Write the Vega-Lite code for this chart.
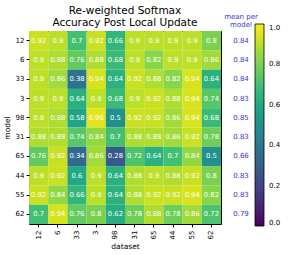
{
  "$schema": "https://vega.github.io/schema/vega-lite/v6.json",
  "padding": {"left": 2, "top": 5, "right": 2, "bottom": 2},
  "background": "white",
  "config": {
    "font": "DejaVu Sans",
    "view": {"stroke": null},
    "axis": {"labelFont": "DejaVu Sans", "titleFont": "DejaVu Sans", "labelColor": "black", "titleColor": "black", "tickColor": "black", "labelFontSize": 7, "titleFontSize": 7.5, "titleFontWeight": "normal", "tickSize": 3, "domain": false},
    "concat": {"spacing": 2}
  },
  "datasets": {
    "cells": [
      {"model": "12", "dataset": "12", "acc": 0.92}, {"model": "12", "dataset": "6", "acc": 0.9}, {"model": "12", "dataset": "33", "acc": 0.7}, {"model": "12", "dataset": "3", "acc": 0.92}, {"model": "12", "dataset": "98", "acc": 0.66}, {"model": "12", "dataset": "31", "acc": 0.9}, {"model": "12", "dataset": "65", "acc": 0.9}, {"model": "12", "dataset": "44", "acc": 0.9}, {"model": "12", "dataset": "55", "acc": 0.9}, {"model": "12", "dataset": "62", "acc": 0.8},
      {"model": "6", "dataset": "12", "acc": 0.9}, {"model": "6", "dataset": "6", "acc": 0.88}, {"model": "6", "dataset": "33", "acc": 0.76}, {"model": "6", "dataset": "3", "acc": 0.88}, {"model": "6", "dataset": "98", "acc": 0.68}, {"model": "6", "dataset": "31", "acc": 0.9}, {"model": "6", "dataset": "65", "acc": 0.82}, {"model": "6", "dataset": "44", "acc": 0.9}, {"model": "6", "dataset": "55", "acc": 0.9}, {"model": "6", "dataset": "62", "acc": 0.86},
      {"model": "33", "dataset": "12", "acc": 0.9}, {"model": "33", "dataset": "6", "acc": 0.86}, {"model": "33", "dataset": "33", "acc": 0.38}, {"model": "33", "dataset": "3", "acc": 0.94}, {"model": "33", "dataset": "98", "acc": 0.64}, {"model": "33", "dataset": "31", "acc": 0.92}, {"model": "33", "dataset": "65", "acc": 0.88}, {"model": "33", "dataset": "44", "acc": 0.82}, {"model": "33", "dataset": "55", "acc": 0.94}, {"model": "33", "dataset": "62", "acc": 0.64},
      {"model": "3", "dataset": "12", "acc": 0.9}, {"model": "3", "dataset": "6", "acc": 0.9}, {"model": "3", "dataset": "33", "acc": 0.64}, {"model": "3", "dataset": "3", "acc": 0.9}, {"model": "3", "dataset": "98", "acc": 0.68}, {"model": "3", "dataset": "31", "acc": 0.9}, {"model": "3", "dataset": "65", "acc": 0.92}, {"model": "3", "dataset": "44", "acc": 0.88}, {"model": "3", "dataset": "55", "acc": 0.94}, {"model": "3", "dataset": "62", "acc": 0.74},
      {"model": "98", "dataset": "12", "acc": 0.9}, {"model": "98", "dataset": "6", "acc": 0.88}, {"model": "98", "dataset": "33", "acc": 0.58}, {"model": "98", "dataset": "3", "acc": 0.96}, {"model": "98", "dataset": "98", "acc": 0.5}, {"model": "98", "dataset": "31", "acc": 0.92}, {"model": "98", "dataset": "65", "acc": 0.92}, {"model": "98", "dataset": "44", "acc": 0.86}, {"model": "98", "dataset": "55", "acc": 0.94}, {"model": "98", "dataset": "62", "acc": 0.68},
      {"model": "31", "dataset": "12", "acc": 0.88}, {"model": "31", "dataset": "6", "acc": 0.88}, {"model": "31", "dataset": "33", "acc": 0.74}, {"model": "31", "dataset": "3", "acc": 0.84}, {"model": "31", "dataset": "98", "acc": 0.7}, {"model": "31", "dataset": "31", "acc": 0.88}, {"model": "31", "dataset": "65", "acc": 0.88}, {"model": "31", "dataset": "44", "acc": 0.86}, {"model": "31", "dataset": "55", "acc": 0.92}, {"model": "31", "dataset": "62", "acc": 0.78},
      {"model": "65", "dataset": "12", "acc": 0.76}, {"model": "65", "dataset": "6", "acc": 0.92}, {"model": "65", "dataset": "33", "acc": 0.34}, {"model": "65", "dataset": "3", "acc": 0.86}, {"model": "65", "dataset": "98", "acc": 0.28}, {"model": "65", "dataset": "31", "acc": 0.72}, {"model": "65", "dataset": "65", "acc": 0.64}, {"model": "65", "dataset": "44", "acc": 0.7}, {"model": "65", "dataset": "55", "acc": 0.84}, {"model": "65", "dataset": "62", "acc": 0.5},
      {"model": "44", "dataset": "12", "acc": 0.9}, {"model": "44", "dataset": "6", "acc": 0.92}, {"model": "44", "dataset": "33", "acc": 0.6}, {"model": "44", "dataset": "3", "acc": 0.9}, {"model": "44", "dataset": "98", "acc": 0.64}, {"model": "44", "dataset": "31", "acc": 0.88}, {"model": "44", "dataset": "65", "acc": 0.9}, {"model": "44", "dataset": "44", "acc": 0.88}, {"model": "44", "dataset": "55", "acc": 0.92}, {"model": "44", "dataset": "62", "acc": 0.8},
      {"model": "55", "dataset": "12", "acc": 0.92}, {"model": "55", "dataset": "6", "acc": 0.84}, {"model": "55", "dataset": "33", "acc": 0.66}, {"model": "55", "dataset": "3", "acc": 0.9}, {"model": "55", "dataset": "98", "acc": 0.64}, {"model": "55", "dataset": "31", "acc": 0.88}, {"model": "55", "dataset": "65", "acc": 0.92}, {"model": "55", "dataset": "44", "acc": 0.92}, {"model": "55", "dataset": "55", "acc": 0.94}, {"model": "55", "dataset": "62", "acc": 0.82},
      {"model": "62", "dataset": "12", "acc": 0.7}, {"model": "62", "dataset": "6", "acc": 0.94}, {"model": "62", "dataset": "33", "acc": 0.76}, {"model": "62", "dataset": "3", "acc": 0.8}, {"model": "62", "dataset": "98", "acc": 0.62}, {"model": "62", "dataset": "31", "acc": 0.78}, {"model": "62", "dataset": "65", "acc": 0.88}, {"model": "62", "dataset": "44", "acc": 0.78}, {"model": "62", "dataset": "55", "acc": 0.86}, {"model": "62", "dataset": "62", "acc": 0.72}
    ],
    "means": [
      {"model": "12", "mean": 0.84}, {"model": "6", "mean": 0.84}, {"model": "33", "mean": 0.84}, {"model": "3", "mean": 0.83}, {"model": "98", "mean": 0.85},
      {"model": "31", "mean": 0.83}, {"model": "65", "mean": 0.66}, {"model": "44", "mean": 0.83}, {"model": "55", "mean": 0.83}, {"model": "62", "mean": 0.79}
    ]
  },
  "hconcat": [
    {
      "width": 192,
      "height": 193,
      "title": {"text": ["Re-weighted Softmax", "Accuracy Post Local Update"], "fontSize": 10.5, "fontWeight": "normal", "color": "black", "font": "DejaVu Sans", "offset": 3, "lineHeight": 12},
      "view": {"stroke": "black", "strokeWidth": 1},
      "data": {"name": "cells"},
      "encoding": {
        "x": {"field": "dataset", "type": "nominal", "sort": ["12", "6", "33", "3", "98", "31", "65", "44", "55", "62"], "title": "dataset", "axis": {"labelAngle": -90, "labelPadding": 3, "titlePadding": 4}, "scale": {"paddingInner": 0, "paddingOuter": 0}},
        "y": {"field": "model", "type": "nominal", "sort": ["12", "6", "33", "3", "98", "31", "65", "44", "55", "62"], "title": "model", "axis": {"labelPadding": 2, "titlePadding": 4}, "scale": {"paddingInner": 0, "paddingOuter": 0}}
      },
      "layer": [
        {
          "mark": {"type": "rect"},
          "encoding": {
            "color": {"field": "acc", "type": "quantitative", "scale": {"scheme": "viridis", "domain": [0, 1]}, "legend": {"title": null, "orient": "none", "legendX": 226, "legendY": -7, "values": [0, 0.2, 0.4, 0.6, 0.8, 1.0], "format": ".1f", "gradientLength": 202, "gradientThickness": 9, "gradientStrokeColor": "black", "gradientStrokeWidth": 0.8, "labelFontSize": 7, "labelColor": "black", "labelFont": "DejaVu Sans", "labelOffset": 5}}
          }
        },
        {
          "mark": {"type": "text", "color": "white", "fontSize": 6.8, "font": "DejaVu Sans"},
          "encoding": {"text": {"field": "acc", "type": "quantitative", "format": ".2~f"}}
        }
      ]
    },
    {
      "width": 28,
      "height": 193,
      "title": {"text": ["mean per", "model"], "fontSize": 7, "fontWeight": "normal", "color": "#3838d0", "font": "DejaVu Sans", "offset": 3, "lineHeight": 8},
      "data": {"name": "means"},
      "mark": {"type": "text", "color": "#3838d0", "fontSize": 7, "font": "DejaVu Sans"},
      "encoding": {
        "y": {"field": "model", "type": "nominal", "sort": ["12", "6", "33", "3", "98", "31", "65", "44", "55", "62"], "axis": null, "scale": {"paddingInner": 0, "paddingOuter": 0}},
        "text": {"field": "mean", "type": "quantitative", "format": ".2f"}
      }
    }
  ]
}
